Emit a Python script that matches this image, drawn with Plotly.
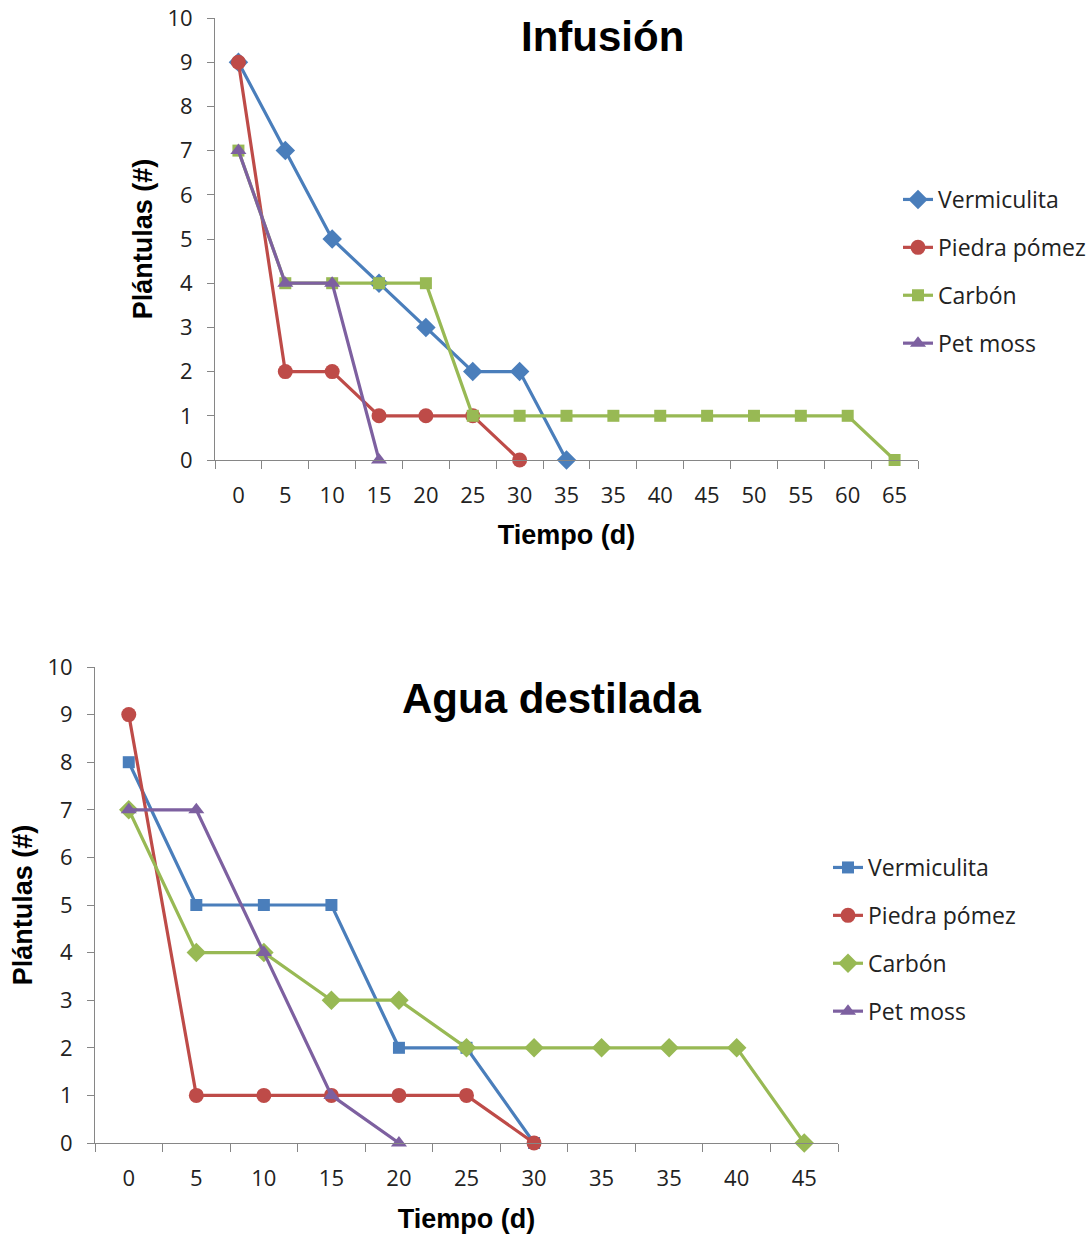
import plotly.graph_objects as go

# --- data -------------------------------------------------------------
infusion_days = ["0", "5", "10", "15", "20", "25", "30", "35", "35",
                 "40", "45", "50", "55", "60", "65"]
infusion_vermiculita = [9, 7, 5, 4, 3, 2, 2, 0]
infusion_piedra = [9, 2, 2, 1, 1, 1, 0]
infusion_carbon = [7, 4, 4, 4, 4, 1, 1, 1, 1, 1, 1, 1, 1, 1, 0]
infusion_petmoss = [7, 4, 4, 0]

agua_days = ["0", "5", "10", "15", "20", "25", "30", "35", "35", "40", "45"]
agua_vermiculita = [8, 5, 5, 5, 2, 2, 0]
agua_piedra = [9, 1, 1, 1, 1, 1, 0]
agua_carbon = [7, 4, 4, 3, 3, 2, 2, 2, 2, 2, 0]
agua_petmoss = [7, 7, 4, 1, 0]

series_names = ["Vermiculita", "Piedra pómez", "Carbón", "Pet moss"]
y_ticks = list(range(0, 11))

# --- styling ----------------------------------------------------------
COLORS = ["#4A7EBB", "#BE4B48", "#98B954", "#7D60A0"]
TOP_SYMBOLS = ["diamond", "circle", "square", "triangle-up"]
BOTTOM_SYMBOLS = ["square", "circle", "diamond", "triangle-up"]
SYMBOL_SIZE = {"diamond": 15, "circle": 15, "square": 12, "triangle-up": 14}
AXIS_GREY = "#868686"
TICK_FONT = dict(family="'Open Sans', sans-serif", size=22, color="#222222")
TITLE_FONT = dict(family="'Liberation Sans', Arial, sans-serif", size=27, color="#000000")

W, H = 1092, 1234

fig = go.Figure()


def add_series(values_list, symbols, xref, yref, legend):
    for name, vals, color, sym in zip(series_names, values_list, COLORS, symbols):
        fig.add_trace(go.Scatter(
            x=list(range(len(vals))), y=vals, name=name,
            mode="lines+markers", xaxis=xref, yaxis=yref,
            line=dict(color=color, width=3.2),
            marker=dict(symbol=sym, size=SYMBOL_SIZE[sym], color=color),
            cliponaxis=False, legend=legend, legendgroup=legend + name,
        ))


add_series([infusion_vermiculita, infusion_piedra, infusion_carbon, infusion_petmoss],
           TOP_SYMBOLS, "x", "y", "legend")
add_series([agua_vermiculita, agua_piedra, agua_carbon, agua_petmoss],
           BOTTOM_SYMBOLS, "x2", "y2", "legend2")


def px_x(px):
    return px / W


def px_y(py):
    return 1 - py / H


def x_axis(labels, domain, anchor, standoff):
    n = len(labels)
    return dict(
        domain=domain, anchor=anchor, range=[-0.5, n - 0.5],
        tickmode="array", tickvals=list(range(n)), ticktext=labels,
        ticks="outside", ticklen=16, tickcolor="rgba(0,0,0,0)",
        minor=dict(tickmode="array", tickvals=[i - 0.5 for i in range(n + 1)],
                   ticks="outside", ticklen=8, tickcolor=AXIS_GREY, tickwidth=1),
        showline=True, linecolor=AXIS_GREY, linewidth=1,
        showgrid=False, zeroline=False, tickfont=TICK_FONT,
        title=dict(text="<b>Tiempo (d)</b>", font=TITLE_FONT, standoff=standoff),
        automargin=False, fixedrange=True,
    )


def y_axis(domain, anchor):
    return dict(
        domain=domain, anchor=anchor, range=[0, 10],
        tickmode="array", tickvals=y_ticks,
        ticks="outside", ticklen=7, tickcolor=AXIS_GREY, tickwidth=1,
        ticklabelstandoff=10,
        showline=True, linecolor=AXIS_GREY, linewidth=1,
        showgrid=False, zeroline=False, tickfont=TICK_FONT,
        title=dict(text="<b>Plántulas (#)</b>", font=TITLE_FONT, standoff=6),
        automargin=False, fixedrange=True,
    )


legend_common = dict(
    font=dict(family="'Open Sans', sans-serif", size=23, color="#222222"),
    tracegroupgap=15, bgcolor="rgba(0,0,0,0)", xanchor="left", yanchor="top",
    itemclick=False, itemdoubleclick=False,
)

fig.update_layout(
    width=W, height=H,
    margin=dict(l=0, r=0, t=0, b=0),
    paper_bgcolor="white", plot_bgcolor="white",
    showlegend=True,
    xaxis=x_axis(infusion_days, [px_x(215), px_x(918)], "y", 16),
    yaxis=y_axis([px_y(460), px_y(18)], "x"),
    xaxis2=x_axis(agua_days, [px_x(95), px_x(838)], "y2", 20),
    yaxis2=y_axis([px_y(1143), px_y(667)], "x2"),
    legend=dict(x=px_x(898), y=px_y(178), **legend_common),
    legend2=dict(x=px_x(828), y=px_y(846), **legend_common),
    annotations=[
        dict(text="<b>Infusión</b>", x=px_x(602), y=px_y(36), xref="paper", yref="paper",
             showarrow=False, xanchor="center", yanchor="middle",
             font=dict(family="'Liberation Sans', Arial, sans-serif", size=42, color="#000000")),
        dict(text="<b>Agua destilada</b>", x=px_x(551), y=px_y(698), xref="paper", yref="paper",
             showarrow=False, xanchor="center", yanchor="middle",
             font=dict(family="'Liberation Sans', Arial, sans-serif", size=42, color="#000000")),
    ],
)

fig.write_html("out.html")
